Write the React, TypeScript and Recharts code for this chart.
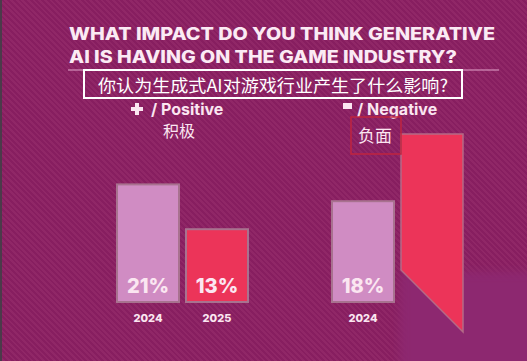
import React from 'react'
import { BarChart, Bar, XAxis, YAxis, LabelList } from 'recharts'

const groups = ['Positive', 'Negative']
const years = ['2024', '2025']
const values2024 = [21, 18]
const values2025 = [13, 30]

const data = groups.map((g, i) => ({ group: g, y2024: values2024[i], y2025: values2025[i] }))

const LIGHT = '#D08CC3'
const RED = '#EC3459'
const TXT = '#FBE6F1'

const valueLabel = (year: string) => (props: any) => {
  const { x, y, width, height, value, index } = props
  if (year === '2025' && index === 1) return null
  const cx = x + width / 2
  return (
    <g>
      <text x={cx} y={y + height - 9} textAnchor="middle" fill={TXT} fontFamily="Inter" fontWeight={800} fontSize={20}>
        {value}%
      </text>
      <text x={cx} y={y + height + 20} textAnchor="middle" fill={TXT} fontFamily="Inter" fontWeight={800} fontSize={11}>
        {year}
      </text>
    </g>
  )
}

const BarShape = (props: any) => {
  const { x, y, width, height, fill, index, cut } = props
  if (cut && index === 1) {
    // partly hidden bar: lower part cut off diagonally
    const pts = `${x},${y} ${x + width},${y} ${x + width},${y + height + 30} ${x},${y + height - 32}`
    return <polygon points={pts} fill={fill} stroke="#B46A86" strokeWidth={1.5} />
  }
  return <rect x={x} y={y} width={width} height={height} fill={fill} stroke="#A8728F" strokeWidth={2} />
}

export default function App() {
  return (
    <div
      style={{
        position: 'absolute',
        left: 0,
        top: 0,
        width: 527,
        height: 361,
        overflow: 'hidden',
        background: 'repeating-linear-gradient(45deg, #871E60 0px, #871E60 2px, #902767 2px, #902767 4px)',
      }}
    >
      <div style={{ position: 'absolute', left: 0, top: 0, width: 2, height: 361, background: '#4B3A4A' }} />
      {/* smooth blurred patch bottom right */}
      <div style={{ position: 'absolute', left: 400, top: 272, width: 160, height: 110, background: '#8D2870', filter: 'blur(5px)' }} />

      <div style={{ position: 'absolute', left: 0, top: 0 }}>
        <BarChart width={527} height={361} data={data} margin={{ top: 134, right: 22, bottom: 59, left: 75 }} barSize={62} barGap={7}>
          <XAxis dataKey="group" hide />
          <YAxis domain={[0, 30]} hide />
          <Bar dataKey="y2024" fill={LIGHT} isAnimationActive={false} shape={(p: any) => <BarShape {...p} />}>
            <LabelList dataKey="y2024" content={valueLabel(years[0])} />
          </Bar>
          <Bar dataKey="y2025" fill={RED} isAnimationActive={false} shape={(p: any) => <BarShape {...p} cut />}>
            <LabelList dataKey="y2025" content={valueLabel(years[1])} />
          </Bar>
        </BarChart>
      </div>

      <svg width={527} height={361} style={{ position: 'absolute', left: 0, top: 0 }}>
        <text x={69} y={40} fill="#FBEAF4" fontFamily="Inter" fontWeight={800} fontSize={17} textLength={426} lengthAdjust="spacingAndGlyphs">
          WHAT IMPACT DO YOU THINK GENERATIVE
        </text>
        <text x={69} y={63} fill="#FBEAF4" fontFamily="Inter" fontWeight={800} fontSize={17} textLength={388} lengthAdjust="spacingAndGlyphs">
          AI IS HAVING ON THE GAME INDUSTRY?
        </text>
        <line x1={68} y1={70} x2={499} y2={70} stroke="#E2A6CC" strokeWidth={1} />
        <rect x={84} y={70} width={378} height={28} fill="none" stroke="#FFFFFF" strokeWidth={2} />
        <text x={273} y={92} textAnchor="middle" fill="#FFFFFF" fontFamily="Noto Sans CJK SC" fontSize={17} textLength={350} lengthAdjust="spacingAndGlyphs">
          你认为生成式AI对游戏行业产生了什么影响?
        </text>

        {/* positive legend */}
        <rect x={135} y={103} width={4} height={12} fill={TXT} />
        <rect x={131} y={107} width={12} height={4} fill={TXT} />
        <text x={151} y={115} fill={TXT} fontFamily="Inter" fontWeight={700} fontSize={16}>
          / Positive
        </text>
        <text x={163} y={137} fill={TXT} fontFamily="Noto Sans CJK SC" fontSize={16}>
          积极
        </text>

        {/* negative legend */}
        <rect x={343} y={103} width={9} height={6} fill={TXT} />
        <text x={357} y={115} fill={TXT} fontFamily="Inter" fontWeight={700} fontSize={16}>
          / Negative
        </text>
        <rect x={351} y={117} width={50} height={37} fill="none" stroke="#C0243F" strokeWidth={1.5} />
        <text x={358} y={142} fill={TXT} fontFamily="Noto Sans CJK SC" fontSize={17}>
          负面
        </text>
      </svg>
    </div>
  )
}
